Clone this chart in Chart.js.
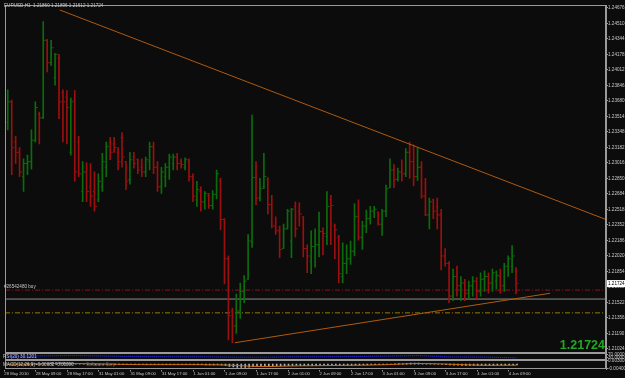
<!DOCTYPE html>
<html>
<head>
<meta charset="UTF-8">
<title>EURUSD,H1</title>
<script src="https://cdn.jsdelivr.net/npm/chart.js"></script>
<style>
  html, body { margin: 0; padding: 0; background: #0b0c0b; }
  canvas { display: block; }
</style>
</head>
<body>
<canvas id="chart" width="625" height="378"></canvas>
<script>
// EURUSD H1 bars, 28 May - 4 Jun 2010
const opens = [
  1.2345, 1.2367, 1.2324, 1.2313, 1.2287, 1.2301, 1.2303, 1.2326, 1.2354, 1.2350,
  1.2433, 1.2409, 1.2393, 1.2414, 1.2377, 1.2372, 1.2313, 1.2369, 1.2324, 1.2271,
  1.2292, 1.2276, 1.2271, 1.2262, 1.2276, 1.2297, 1.2324, 1.2322, 1.2313, 1.2329,
  1.2303, 1.2284, 1.2308, 1.2305, 1.2297, 1.2292, 1.2303, 1.2319, 1.2297, 1.2276,
  1.2287, 1.2297, 1.2301, 1.2308, 1.2303, 1.2297, 1.2303, 1.2287, 1.2262, 1.2271,
  1.2260, 1.2267, 1.2256, 1.2268, 1.2282, 1.2241, 1.2199, 1.2143, 1.2127, 1.2143,
  1.2164, 1.2177, 1.2217, 1.2286, 1.2264, 1.2276, 1.2284, 1.2257, 1.2234, 1.2229,
  1.2210, 1.2231, 1.2218, 1.2255, 1.2250, 1.2244, 1.2210, 1.2196, 1.2212, 1.2214,
  1.2228, 1.2223, 1.2262, 1.2234, 1.2222, 1.2180, 1.2194, 1.2199, 1.2207, 1.2244,
  1.2222, 1.2234, 1.2242, 1.2250, 1.2249, 1.2236, 1.2250, 1.2275, 1.2294, 1.2284,
  1.2292, 1.2290, 1.2313, 1.2303, 1.2287, 1.2297, 1.2266, 1.2246, 1.2262, 1.2255,
  1.2246, 1.2202, 1.2194, 1.2159, 1.2180, 1.2170, 1.2173, 1.2162, 1.2170, 1.2175,
  1.2164, 1.2177, 1.2180, 1.2173, 1.2175, 1.2180, 1.2170, 1.2191, 1.2191, 1.21860
];
const highs = [
  1.2380, 1.2369, 1.2330, 1.2318, 1.2306, 1.2310, 1.2337, 1.2367, 1.2356, 1.2453,
  1.2434, 1.2433, 1.2419, 1.2418, 1.2380, 1.2379, 1.2371, 1.2379, 1.2330, 1.2303,
  1.2302, 1.2301, 1.2292, 1.2290, 1.2312, 1.2324, 1.2329, 1.2329, 1.2318, 1.2334,
  1.2303, 1.2313, 1.2313, 1.2306, 1.2306, 1.2308, 1.2324, 1.2324, 1.2303, 1.2297,
  1.2301, 1.2311, 1.2311, 1.2312, 1.2306, 1.2307, 1.2306, 1.2290, 1.2282, 1.2276,
  1.2271, 1.2269, 1.2272, 1.2294, 1.2285, 1.2242, 1.2202, 1.2146, 1.2161, 1.2173,
  1.2181, 1.2225, 1.2353, 1.2303, 1.2285, 1.2312, 1.2286, 1.2267, 1.2244, 1.2234,
  1.2236, 1.2252, 1.2253, 1.2260, 1.2259, 1.2244, 1.2214, 1.2229, 1.2231, 1.2249,
  1.2232, 1.2271, 1.2267, 1.2236, 1.2224, 1.2216, 1.2214, 1.2218, 1.2258, 1.2262,
  1.2239, 1.2251, 1.2255, 1.2255, 1.2249, 1.2252, 1.2278, 1.2306, 1.2300, 1.2296,
  1.2305, 1.2317, 1.2324, 1.2321, 1.2318, 1.2303, 1.2285, 1.2264, 1.2263, 1.2264,
  1.2252, 1.2210, 1.2196, 1.2188, 1.2191, 1.2180, 1.2177, 1.2175, 1.2180, 1.2179,
  1.2184, 1.2186, 1.2184, 1.2188, 1.2186, 1.2188, 1.2194, 1.2202, 1.2213, 1.21896
];
const lows = [
  1.2337, 1.2289, 1.2301, 1.2287, 1.2271, 1.2289, 1.2295, 1.2324, 1.2322, 1.2349,
  1.2399, 1.2406, 1.2385, 1.2349, 1.2324, 1.2322, 1.2310, 1.2282, 1.2287, 1.2260,
  1.2260, 1.2255, 1.2250, 1.2260, 1.2271, 1.2287, 1.2305, 1.2313, 1.2294, 1.2297,
  1.2273, 1.2279, 1.2296, 1.2290, 1.2287, 1.2287, 1.2294, 1.2290, 1.2271, 1.2269,
  1.2276, 1.2284, 1.2294, 1.2294, 1.2296, 1.2294, 1.2282, 1.2260, 1.2255, 1.2250,
  1.2252, 1.2253, 1.2252, 1.2263, 1.2230, 1.2172, 1.2112, 1.2109, 1.2119, 1.2135,
  1.2152, 1.2177, 1.2211, 1.2257, 1.2261, 1.2274, 1.2247, 1.2232, 1.2225, 1.2200,
  1.2210, 1.2231, 1.2200, 1.2222, 1.2234, 1.2201, 1.2184, 1.2183, 1.2190, 1.2201,
  1.2203, 1.2214, 1.2214, 1.2199, 1.2173, 1.2173, 1.2183, 1.2193, 1.2202, 1.2219,
  1.2209, 1.2227, 1.2236, 1.2243, 1.2235, 1.2224, 1.2244, 1.2275, 1.2275, 1.2282,
  1.2282, 1.2287, 1.2285, 1.2277, 1.2283, 1.2264, 1.2245, 1.2231, 1.2242, 1.2231,
  1.2187, 1.2191, 1.2152, 1.2154, 1.2159, 1.2154, 1.2154, 1.2156, 1.2159, 1.2156,
  1.2159, 1.2164, 1.2162, 1.2164, 1.2167, 1.2162, 1.2164, 1.2180, 1.2184, 1.21612
];
const closes = [
  1.2367, 1.2318, 1.2313, 1.2292, 1.2301, 1.2303, 1.2326, 1.2361, 1.2350, 1.2433,
  1.2409, 1.2425, 1.2418, 1.2367, 1.2367, 1.2361, 1.2367, 1.2292, 1.2290, 1.2292,
  1.2271, 1.2266, 1.2255, 1.2282, 1.2303, 1.2319, 1.2313, 1.2318, 1.2303, 1.2308,
  1.2282, 1.2305, 1.2301, 1.2294, 1.2292, 1.2305, 1.2319, 1.2297, 1.2276, 1.2292,
  1.2297, 1.2308, 1.2308, 1.2301, 1.2300, 1.2305, 1.2287, 1.2266, 1.2273, 1.2260,
  1.2269, 1.2256, 1.2268, 1.2290, 1.2241, 1.2199, 1.2138, 1.2127, 1.2143, 1.2164,
  1.2175, 1.2218, 1.2286, 1.2264, 1.2274, 1.2287, 1.2257, 1.2234, 1.2229, 1.2209,
  1.2231, 1.2250, 1.2252, 1.2231, 1.2247, 1.2210, 1.2202, 1.2212, 1.2214, 1.2228,
  1.2226, 1.2255, 1.2256, 1.2230, 1.2183, 1.2194, 1.2199, 1.2207, 1.2244, 1.2222,
  1.2234, 1.2242, 1.2250, 1.2252, 1.2236, 1.2250, 1.2274, 1.2294, 1.2284, 1.2292,
  1.2290, 1.2313, 1.2303, 1.2287, 1.2297, 1.2266, 1.2246, 1.2260, 1.2250, 1.2246,
  1.2202, 1.2194, 1.2159, 1.2180, 1.2170, 1.2173, 1.2162, 1.2170, 1.2175, 1.2164,
  1.2177, 1.2180, 1.2173, 1.2184, 1.2181, 1.2170, 1.2191, 1.2199, 1.2202, 1.21724
];

// time axis: label text starts at these bar positions
const timeTickBars = [-1, 7, 15, 23, 31, 39, 47, 55, 63, 71, 79, 87, 95, 103, 111, 119, 127];
const timeLabels = ['28 May 2010', '28 May 09:00', '28 May 17:00', '31 May 01:00', '31 May 09:00',
  '31 May 17:00', '1 Jun 01:00', '1 Jun 09:00', '1 Jun 17:00', '2 Jun 01:00', '2 Jun 09:00',
  '2 Jun 17:00', '3 Jun 01:00', '3 Jun 09:00', '3 Jun 17:00', '4 Jun 01:00', '4 Jun 09:00'];

const priceTicks = [1.24676, 1.24510, 1.24344, 1.24178, 1.24012, 1.23846, 1.23680, 1.23514,
  1.23348, 1.23182, 1.23016, 1.22850, 1.22684, 1.22518, 1.22352, 1.22186, 1.22020, 1.21854,
  1.21688, 1.21522, 1.21356, 1.21190, 1.21024];

// trend lines [bar, price] and horizontal levels
const upperTrend = [[13.06, 1.24655], [151.7, 1.22410]];
const lowerTrend = [[57.5, 1.2109], [137.5, 1.2162]];
const buyLevel = 1.21654;
const greyLevel = 1.21558;
const olivLevel = 1.21410;

// indicator panes
const indIdx = [0, 16, 32, 48, 56, 64, 72, 80, 88, 96, 104, 112, 120, 129];
const rsiVals = [50, 62, 47, 45, 40, 38, 44, 46, 47, 53, 60, 42, 41, 30];
const macdSignal = [0, 6, -3, -4, -8, -20, -15, -12, -9, -4, 6, 0, -9, -8];
const macdHist = [
  2, 0, -2, -4, -6, -7, -6, -4, -2,
  4, 8, 11, 14, 14, 12, 10, 10,
  7, 4, 1, -2, -5, -7, -7, -6, -4, -3, -3, -3, -3, -4,
  -4, -4, -4, -4, -4, -3, -3, -4, -4, -4, -3, -2, -2, -2, -2, -2, -3, -4, -5, -6, -6, -6, -5,
  -7, -11, -18, -24, -27, -28, -28, -26, -20,
  -17, -14, -12, -12, -12, -13, -14, -14, -13, -12, -11, -12, -13, -13, -13, -12, -11, -11,
  -9, -8, -9, -10, -10, -10, -10, -9, -8, -7, -6, -5, -4, -3, -3, -1,
  2, 4, 5, 6, 7, 9, 9, 9, 8, 6, 4, 3, 2,
  -1, -3, -6, -8, -9, -10, -11, -11, -11, -11, -11, -11, -10, -10, -9, -9, -8, -7, -6, -6
];

const X_MIN = -0.83, X_MAX = 151.7;
const Y_MIN = 1.20984, Y_MAX = 1.24708;
const UP = '#0c6c0c', DOWN = '#9a1010', FRAME = '#9a9a9a', TXT = '#c8c8c8';
const FONT = { family: 'Liberation Sans', size: 4.6 };

const idx = closes.map((_, i) => i);
const barCol = i => closes[i] >= opens[i] ? UP : DOWN;
const level = v => [{ x: X_MIN, y: v }, { x: X_MAX, y: v }];
const last = closes.length - 1;

// no automatic label padding: the plot has to sit at fixed pixels
const noPad = w => sc => {
  if (sc.isHorizontal()) sc.height = w; else sc.width = w;
  sc.paddingLeft = sc.paddingRight = sc.paddingTop = sc.paddingBottom = 0;
};

const bgPlugin = {
  id: 'bg',
  beforeDraw(c) {
    const ctx = c.ctx;
    ctx.save();
    ctx.fillStyle = '#0b0c0b';
    ctx.fillRect(0, 0, c.width, c.height);
    ctx.restore();
  }
};

const decoPlugin = {
  id: 'deco',
  afterDraw(c) {
    const ctx = c.ctx, a = c.chartArea, s = c.scales;
    ctx.save();
    ctx.strokeStyle = FRAME;
    ctx.lineWidth = 1;
    ['y', 'yRsi', 'yMacd'].forEach(id => {
      const sc = s[id];
      ctx.strokeRect(Math.round(a.left) + 0.5, Math.round(sc.top) + 0.5,
        Math.round(a.right - a.left) - 1, Math.round(sc.bottom - sc.top) - 1);
    });
    // texts
    ctx.font = FONT.size + 'px ' + FONT.family;
    ctx.textBaseline = 'middle';
    ctx.textAlign = 'left';
    ctx.fillStyle = TXT;
    ctx.fillText('EURUSD,H1  ' + [opens[last], highs[last], lows[last], closes[last]].map(v => v.toFixed(5)).join(' '), 4, 5.5);
    ctx.fillText('#26542480 buy', 4, s.y.getPixelForValue(buyLevel) - 3);
    ctx.fillText('RSI(20) 30.1201', 3, (s.yRsi.top + s.yRsi.bottom) / 2);
    ctx.fillText('MACD(12,26,9) -0.00082 -0.00090', 3, (s.yMacd.top + s.yMacd.bottom) / 2);
    ctx.fillStyle = '#6a6a6a';
    ctx.fillText('Software Corp.', 86, (s.yMacd.top + s.yMacd.bottom) / 2);
    // current price box on the axis
    const py = s.y.getPixelForValue(closes[last]);
    ctx.fillStyle = '#ffffff';
    ctx.fillRect(a.right + 1, py - 3.5, 19, 7);
    ctx.fillStyle = '#000000';
    ctx.fillText(closes[last].toFixed(5), a.right + 2, py);
    // big last price
    ctx.font = 'bold 12.5px Liberation Sans';
    ctx.textAlign = 'right';
    ctx.textBaseline = 'alphabetic';
    ctx.fillStyle = '#22a822';
    ctx.fillText(closes[last].toFixed(5), a.right - 1, s.y.bottom - 4);
    ctx.restore();
  }
};

new Chart(document.getElementById('chart').getContext('2d'), {
  type: 'bar',
  data: {
    datasets: [
      { type: 'line', order: 0, data: upperTrend.map(p => ({ x: p[0], y: p[1] })), borderColor: '#b05a10', borderWidth: 1, pointRadius: 0, yAxisID: 'y' },
      { type: 'line', order: 0, data: lowerTrend.map(p => ({ x: p[0], y: p[1] })), borderColor: '#b05a10', borderWidth: 1, pointRadius: 0, yAxisID: 'y' },
      { type: 'line', order: 1, data: idx.map(i => ({ x: i - 0.25, y: opens[i] })), showLine: false, pointStyle: 'line', pointRadius: 1, pointBorderWidth: 1, pointBorderColor: idx.map(barCol), yAxisID: 'y' },
      { type: 'line', order: 1, data: idx.map(i => ({ x: i + 0.25, y: closes[i] })), showLine: false, pointStyle: 'line', pointRadius: 1, pointBorderWidth: 1, pointBorderColor: idx.map(barCol), yAxisID: 'y' },
      { type: 'bar', order: 2, data: idx.map(i => ({ x: i, y: [lows[i], highs[i]] })), backgroundColor: idx.map(barCol), barThickness: 1, yAxisID: 'y' },
      { type: 'line', order: 3, data: level(buyLevel), borderColor: '#8a1424', borderWidth: 1, borderDash: [5, 2, 1, 2], pointRadius: 0, yAxisID: 'y' },
      { type: 'line', order: 3, data: level(greyLevel), borderColor: '#8c8c8c', borderWidth: 1, pointRadius: 0, yAxisID: 'y' },
      { type: 'line', order: 3, data: level(olivLevel), borderColor: '#9a7a00', borderWidth: 1, borderDash: [5, 2, 1, 2], pointRadius: 0, yAxisID: 'y' },
      { type: 'line', order: 1, data: indIdx.map((b, k) => ({ x: b, y: rsiVals[k] })), borderColor: '#2a2aff', borderWidth: 1, borderDash: [1, 1], pointRadius: 0, yAxisID: 'yRsi' },
      { type: 'bar', order: 2, data: idx.map(i => ({ x: i, y: macdHist[i] })), backgroundColor: '#b4b4b4', barThickness: 1, yAxisID: 'yMacd' },
      { type: 'line', order: 1, data: indIdx.map((b, k) => ({ x: b, y: macdSignal[k] })), borderColor: '#c86a10', borderWidth: 1, pointRadius: 0, tension: 0.3, yAxisID: 'yMacd' }
    ]
  },
  options: {
    responsive: false,
    animation: false,
    devicePixelRatio: 1,
    events: [],
    layout: { padding: { left: 2, top: 2, right: 0, bottom: 0 } },
    plugins: { legend: { display: false }, tooltip: { enabled: false } },
    scales: {
      x: {
        type: 'linear', position: 'bottom', min: X_MIN, max: X_MAX, offset: false,
        afterBuildTicks: sc => { sc.ticks = timeTickBars.map(v => ({ value: v })); },
        afterFit: noPad(8.5),
        ticks: { autoSkip: false, maxRotation: 0, align: 'start', padding: 0, color: TXT,
          font: { family: FONT.family, size: 4.2 }, callback: (v, k) => timeLabels[k] },
        grid: { drawOnChartArea: false, color: FRAME, tickLength: 2, offset: false },
        border: { display: false }
      },
      y: {
        type: 'linear', position: 'right', stack: 'panes', stackWeight: 350.5, min: Y_MIN, max: Y_MAX,
        afterBuildTicks: sc => { sc.ticks = priceTicks.map(v => ({ value: v })); },
        afterFit: noPad(19),
        ticks: { autoSkip: false, padding: 0, color: TXT, font: FONT, callback: v => v.toFixed(5) },
        grid: { drawOnChartArea: false, color: FRAME, tickLength: 2 },
        border: { color: FRAME }
      },
      yRsi: {
        type: 'linear', position: 'right', stack: 'panes', stackWeight: 7.5, min: 0, max: 100,
        afterBuildTicks: sc => { sc.ticks = [{ value: 70 }, { value: 30 }]; },
        afterFit: noPad(19),
        ticks: { autoSkip: false, padding: 0, color: TXT, font: FONT, callback: v => v.toFixed(4) },
        grid: { drawOnChartArea: false, color: FRAME, tickLength: 2 },
        border: { color: FRAME }
      },
      yMacd: {
        type: 'linear', position: 'right', stack: 'panes', stackWeight: 9.5, min: -45, max: 35,
        afterBuildTicks: sc => { sc.ticks = [{ value: 30 }, { value: -40 }]; },
        afterFit: noPad(19),
        ticks: { autoSkip: false, padding: 0, color: TXT, font: FONT, callback: v => (v / 10000).toFixed(5) },
        grid: { drawOnChartArea: false, color: FRAME, tickLength: 2 },
        border: { color: FRAME }
      }
    }
  },
  plugins: [bgPlugin, decoPlugin]
});
</script>
</body>
</html>
